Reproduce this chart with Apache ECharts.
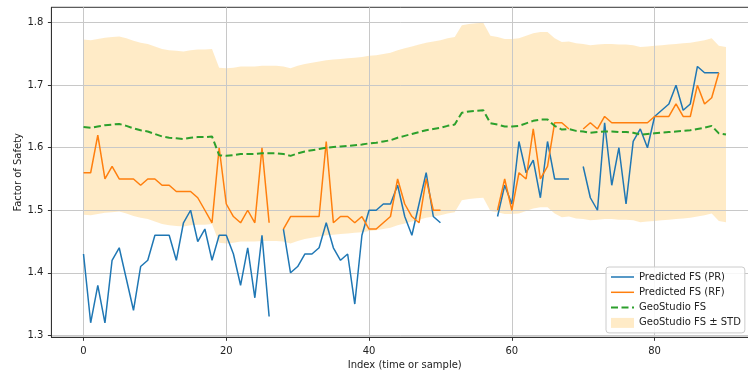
<!DOCTYPE html>
<html><head><meta charset="utf-8">
<script src="https://cdn.jsdelivr.net/npm/echarts@6/dist/echarts.min.js"></script>
<style>html,body{margin:0;padding:0;background:#fff}#c{width:748px;height:372px}</style>
</head><body><div id="c"></div>
<script>
// Predicted FS (PR), index 0..89 (null = gap)
const predPR = [1.43,1.32,1.38,1.32,1.42,1.44,1.39,1.34,1.41,1.42,
  1.46,1.46,1.46,1.42,1.48,1.50,1.45,1.47,1.42,1.46,
  1.46,1.43,1.38,1.44,1.36,1.46,1.33,null,1.47,1.40,
  1.41,1.43,1.43,1.44,1.48,1.44,1.42,1.43,1.35,1.46,
  1.50,1.50,1.51,1.51,1.54,1.49,1.46,1.51,1.56,1.49,
  1.48,null,null,null,null,null,null,null,1.49,1.54,
  1.51,1.61,1.56,1.58,1.52,1.61,1.55,1.55,1.55,null,
  1.57,1.52,1.50,1.64,1.54,1.60,1.51,1.61,1.63,1.60,
  1.65,1.66,1.67,1.70,1.66,1.67,1.73,1.72,1.72,1.72];
// Predicted FS (RF), index 0..89
const predRF = [1.56,1.56,1.62,1.55,1.57,1.55,1.55,1.55,1.54,1.55,
  1.55,1.54,1.54,1.53,1.53,1.53,1.52,1.50,1.48,1.60,
  1.51,1.49,1.48,1.50,1.48,1.60,1.48,null,1.47,1.49,
  1.49,1.49,1.49,1.49,1.61,1.48,1.49,1.49,1.48,1.49,
  1.47,1.47,1.48,1.49,1.55,1.51,1.49,1.48,1.55,1.50,
  1.50,null,null,null,null,null,null,null,1.50,1.55,
  1.50,1.56,1.55,1.63,1.55,1.57,1.64,1.64,1.63,null,
  1.63,1.64,1.63,1.65,1.64,1.64,1.64,1.64,1.64,1.64,
  1.65,1.65,1.65,1.67,1.65,1.65,1.70,1.67,1.68,1.72];
// GeoStudio FS, index 0..90
const geoFS = [1.633,1.632,1.634,1.636,1.637,1.638,1.635,1.631,1.628,1.626,
  1.622,1.618,1.616,1.615,1.614,1.616,1.617,1.617,1.618,1.588,
  1.587,1.588,1.590,1.590,1.590,1.591,1.591,1.591,1.590,1.587,
  1.591,1.594,1.596,1.598,1.600,1.601,1.602,1.603,1.604,1.605,
  1.607,1.608,1.610,1.612,1.616,1.619,1.622,1.625,1.628,1.630,
  1.632,1.635,1.637,1.656,1.658,1.659,1.660,1.639,1.637,1.634,
  1.634,1.635,1.639,1.643,1.645,1.645,1.635,1.629,1.630,1.627,
  1.626,1.624,1.625,1.626,1.626,1.625,1.625,1.624,1.621,1.622,
  1.623,1.624,1.625,1.626,1.627,1.628,1.630,1.632,1.635,1.623,
  1.621];
const geoStd = 0.14;
const xTicks = [0, 20, 40, 60, 80];
const yTicks = [1.3, 1.4, 1.5, 1.6, 1.7, 1.8];
const names = ['Predicted FS (PR)', 'Predicted FS (RF)', 'GeoStudio FS', 'GeoStudio FS \u00b1 STD'];

const FONT = 'DejaVu Sans';
const BAND = 'rgba(255,165,0,0.22)';
const pairs = arr => arr.map((v, i) => [i, v == null ? '-' : v]);
const bandData = geoFS.map((v, i) => [i, v - geoStd, v + geoStd]);

function renderBand(params, api) {
  if (params.dataIndex !== 0) return null;
  const upper = [], lower = [];
  for (let k = 0; k < bandData.length; k++) {
    lower.push(api.coord([bandData[k][0], bandData[k][1]]));
    upper.push(api.coord([bandData[k][0], bandData[k][2]]));
  }
  const pts = lower.concat(upper.reverse());
  return {type: 'polygon', shape: {points: pts}, style: {fill: BAND, stroke: null}, silent: true};
}

const chart = echarts.init(document.getElementById('c'), null, {renderer: 'canvas'});
chart.setOption({
  animation: false,
  backgroundColor: '#ffffff',
  grid: {left: 51.4, top: 7.3, right: -10.1, bottom: 34.7, show: true, outerBoundsMode: 'none',
         borderColor: '#333', borderWidth: 1, backgroundColor: 'transparent', containLabel: false},
  xAxis: {
    type: 'value', min: -4.5, max: 94.5, z: 2,
    name: 'Index (time or sample)', nameLocation: 'middle', nameGap: 23, nameMoveOverlap: false,
    nameTextStyle: {fontFamily: FONT, fontSize: 10, color: '#222'},
    axisLine: {show: true, onZero: false, lineStyle: {color: '#333', width: 1}},
    axisTick: {show: true, customValues: xTicks, length: 3.5, lineStyle: {color: '#333'}},
    axisLabel: {customValues: xTicks, margin: 9, fontFamily: FONT, fontSize: 10, color: '#222'},
    splitLine: {show: true, lineStyle: {color: '#c8c8c8', width: 1}}
  },
  yAxis: {
    type: 'value', min: 1.2968, max: 1.8246, z: 2,
    name: 'Factor of Safety', nameLocation: 'middle', nameGap: 28, nameMoveOverlap: false,
    nameTextStyle: {fontFamily: FONT, fontSize: 10, color: '#222'},
    axisLine: {show: true, onZero: false, lineStyle: {color: '#333', width: 1}},
    axisTick: {show: true, customValues: yTicks, length: 3.5, lineStyle: {color: '#333'}},
    axisLabel: {customValues: yTicks, margin: 8, fontFamily: FONT, fontSize: 10, color: '#222',
                formatter: v => v.toFixed(1)},
    splitLine: {show: true, lineStyle: {color: '#c8c8c8', width: 1}}
  },
  legend: {
    orient: 'vertical', left: 606, top: 267, z: 10,
    padding: [5, 4, 5, 4], itemWidth: 23, itemHeight: 10, itemGap: 5.3,
    backgroundColor: 'rgba(255,255,255,0.85)', borderColor: '#cccccc', borderWidth: 1, borderRadius: 3,
    textStyle: {fontFamily: FONT, fontSize: 10, color: '#222', lineHeight: 10},
    itemStyle: {opacity: 0},
    lineStyle: {width: 'inherit'},
    data: [
      {name: names[0]}, {name: names[1]}, {name: names[2]},
      {name: names[3], icon: 'rect', itemStyle: {color: BAND, opacity: 1}}
    ]
  },
  series: [
    {type: 'custom', name: names[3], data: bandData, encode: {x: 0, y: [1, 2]},
     renderItem: renderBand, itemStyle: {color: BAND}, z: 1, silent: true, clip: true},
    {type: 'line', name: names[0], data: pairs(predPR), symbol: 'none', z: 3,
     lineStyle: {color: '#1f77b4', width: 1.5}, itemStyle: {color: '#1f77b4'}},
    {type: 'line', name: names[1], data: pairs(predRF), symbol: 'none', z: 3,
     lineStyle: {color: '#ff7f0e', width: 1.5}, itemStyle: {color: '#ff7f0e'}},
    {type: 'line', name: names[2], data: pairs(geoFS), symbol: 'none', z: 4,
     lineStyle: {color: '#2ca02c', width: 2, type: [7, 3.5]}, itemStyle: {color: '#2ca02c'}}
  ]
});
</script></body></html>
